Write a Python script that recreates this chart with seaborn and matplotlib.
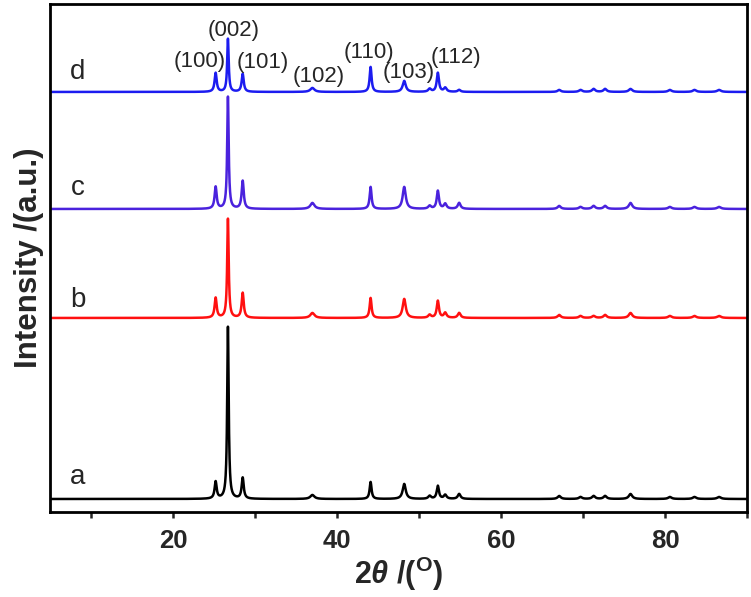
import numpy as np
import pandas as pd
import matplotlib
matplotlib.use('Agg')
import matplotlib.pyplot as plt
from matplotlib.ticker import MultipleLocator
import seaborn as sns

# ========== Data ==========

samples = ['a', 'b', 'c', 'd']
colori = ['#000000', '#ff1010', '#4a22dd', '#1c1cf0']

# vertical offset of each pattern (a.u.)
baselines = [13, 194, 303, 420]

# peak positions 2theta (deg) and widths (FWHM, deg)
peak_pos = [25.2, 26.7, 28.5, 37.0, 44.1, 48.2, 51.3, 52.3, 53.2, 54.9,
            67.1, 69.7, 71.3, 72.7, 75.8, 80.6, 83.6, 86.6]
peak_fwhm = [0.30, 0.22, 0.30, 0.60, 0.28, 0.45, 0.40, 0.32, 0.40, 0.40,
             0.45, 0.45, 0.45, 0.45, 0.50, 0.50, 0.50, 0.55]

# peak heights above baseline for each sample
alt_a = [17, 172, 21, 4, 17, 15, 3, 13, 4, 5, 3, 2, 3, 3, 5, 2, 2, 2]
alt_b = [20, 99, 25, 5, 20, 19, 3, 17, 5, 5, 3, 2, 2, 3, 5, 2, 2, 2]
alt_c = [22, 112, 28, 6, 22, 22, 3, 18, 5, 6, 3, 2, 3, 3, 6, 2, 2, 2]
alt_d = [19, 53, 18, 4, 25, 11, 3, 19, 4, 2, 2, 2, 3, 3, 3, 2, 2, 2]

hkl_labels = ['(100)', '(002)', '(101)', '(102)', '(110)', '(103)', '(112)']


# ========== Build the patterns ==========

def profilo(x, pos, fwhm, alt, base):
    y = np.full_like(x, float(base))
    for p, w, h in zip(pos, fwhm, alt):
        g = (w / 2) ** 2
        y += h * g / ((x - p) ** 2 + g)
    return y


x = np.arange(5, 90.01, 0.02)
frames = []
for s, alt, base in zip(samples, [alt_a, alt_b, alt_c, alt_d], baselines):
    frames.append(pd.DataFrame({'2theta': x,
                                'Intensity': profilo(x, peak_pos, peak_fwhm, alt, base),
                                'sample': s}))
df = pd.concat(frames, ignore_index=True)


# ========== Plot ==========

sns.set_style('white')
plt.rcParams['font.family'] = ['Liberation Sans', 'DejaVu Sans']
plt.rcParams['mathtext.fontset'] = 'custom'
plt.rcParams['mathtext.rm'] = 'Liberation Sans:bold'
plt.rcParams['mathtext.it'] = 'Liberation Sans:bold:italic'
plt.rcParams['mathtext.bf'] = 'Liberation Sans:bold'

fig = plt.figure(figsize=(7.51, 5.97), dpi=100)
ax = fig.add_axes([0.0666, 0.1424, 0.928, 0.851])

sns.lineplot(data=df, x='2theta', y='Intensity', hue='sample',
             palette=dict(zip(samples, colori)), estimator=None,
             linewidth=1.8, legend=False, ax=ax)

ax.set_xlim(5, 90)
ax.set_ylim(0, 508)
ax.set_yticks([])
ax.xaxis.set_major_locator(MultipleLocator(20))
ax.xaxis.set_minor_locator(MultipleLocator(10))
ax.tick_params(axis='x', which='both', direction='out', length=4.5, width=1.8,
               bottom=True, top=False, pad=8)
ax.tick_params(axis='x', which='major', labelsize=18.5)
for lab in ax.get_xticklabels():
    lab.set_fontweight('bold')
for sp in ax.spines.values():
    sp.set_linewidth(2.0)
    sp.set_color('black')

ax.set_xlabel(r'2$\theta$ /($^{\rm O}$)', fontsize=22, fontweight='bold', labelpad=1)
ax.set_ylabel('Intensity /(a.u.)', fontsize=22.5, fontweight='bold', labelpad=4)

# sample letters
for s, ypos in zip(samples, [35, 212, 324, 440]):
    ax.text(8.4, ypos, s, fontsize=20, ha='center', va='center')

# hkl labels on pattern d
hkl_xy = [(23.3, 450), (27.4, 481), (31.0, 449), (37.8, 435),
          (43.9, 459), (48.8, 439), (54.5, 454)]
for t, (xx, yy) in zip(hkl_labels, hkl_xy):
    ax.text(xx, yy, t, fontsize=16, ha='center', va='center')

plt.savefig('out.png', dpi=100)
plt.close()
